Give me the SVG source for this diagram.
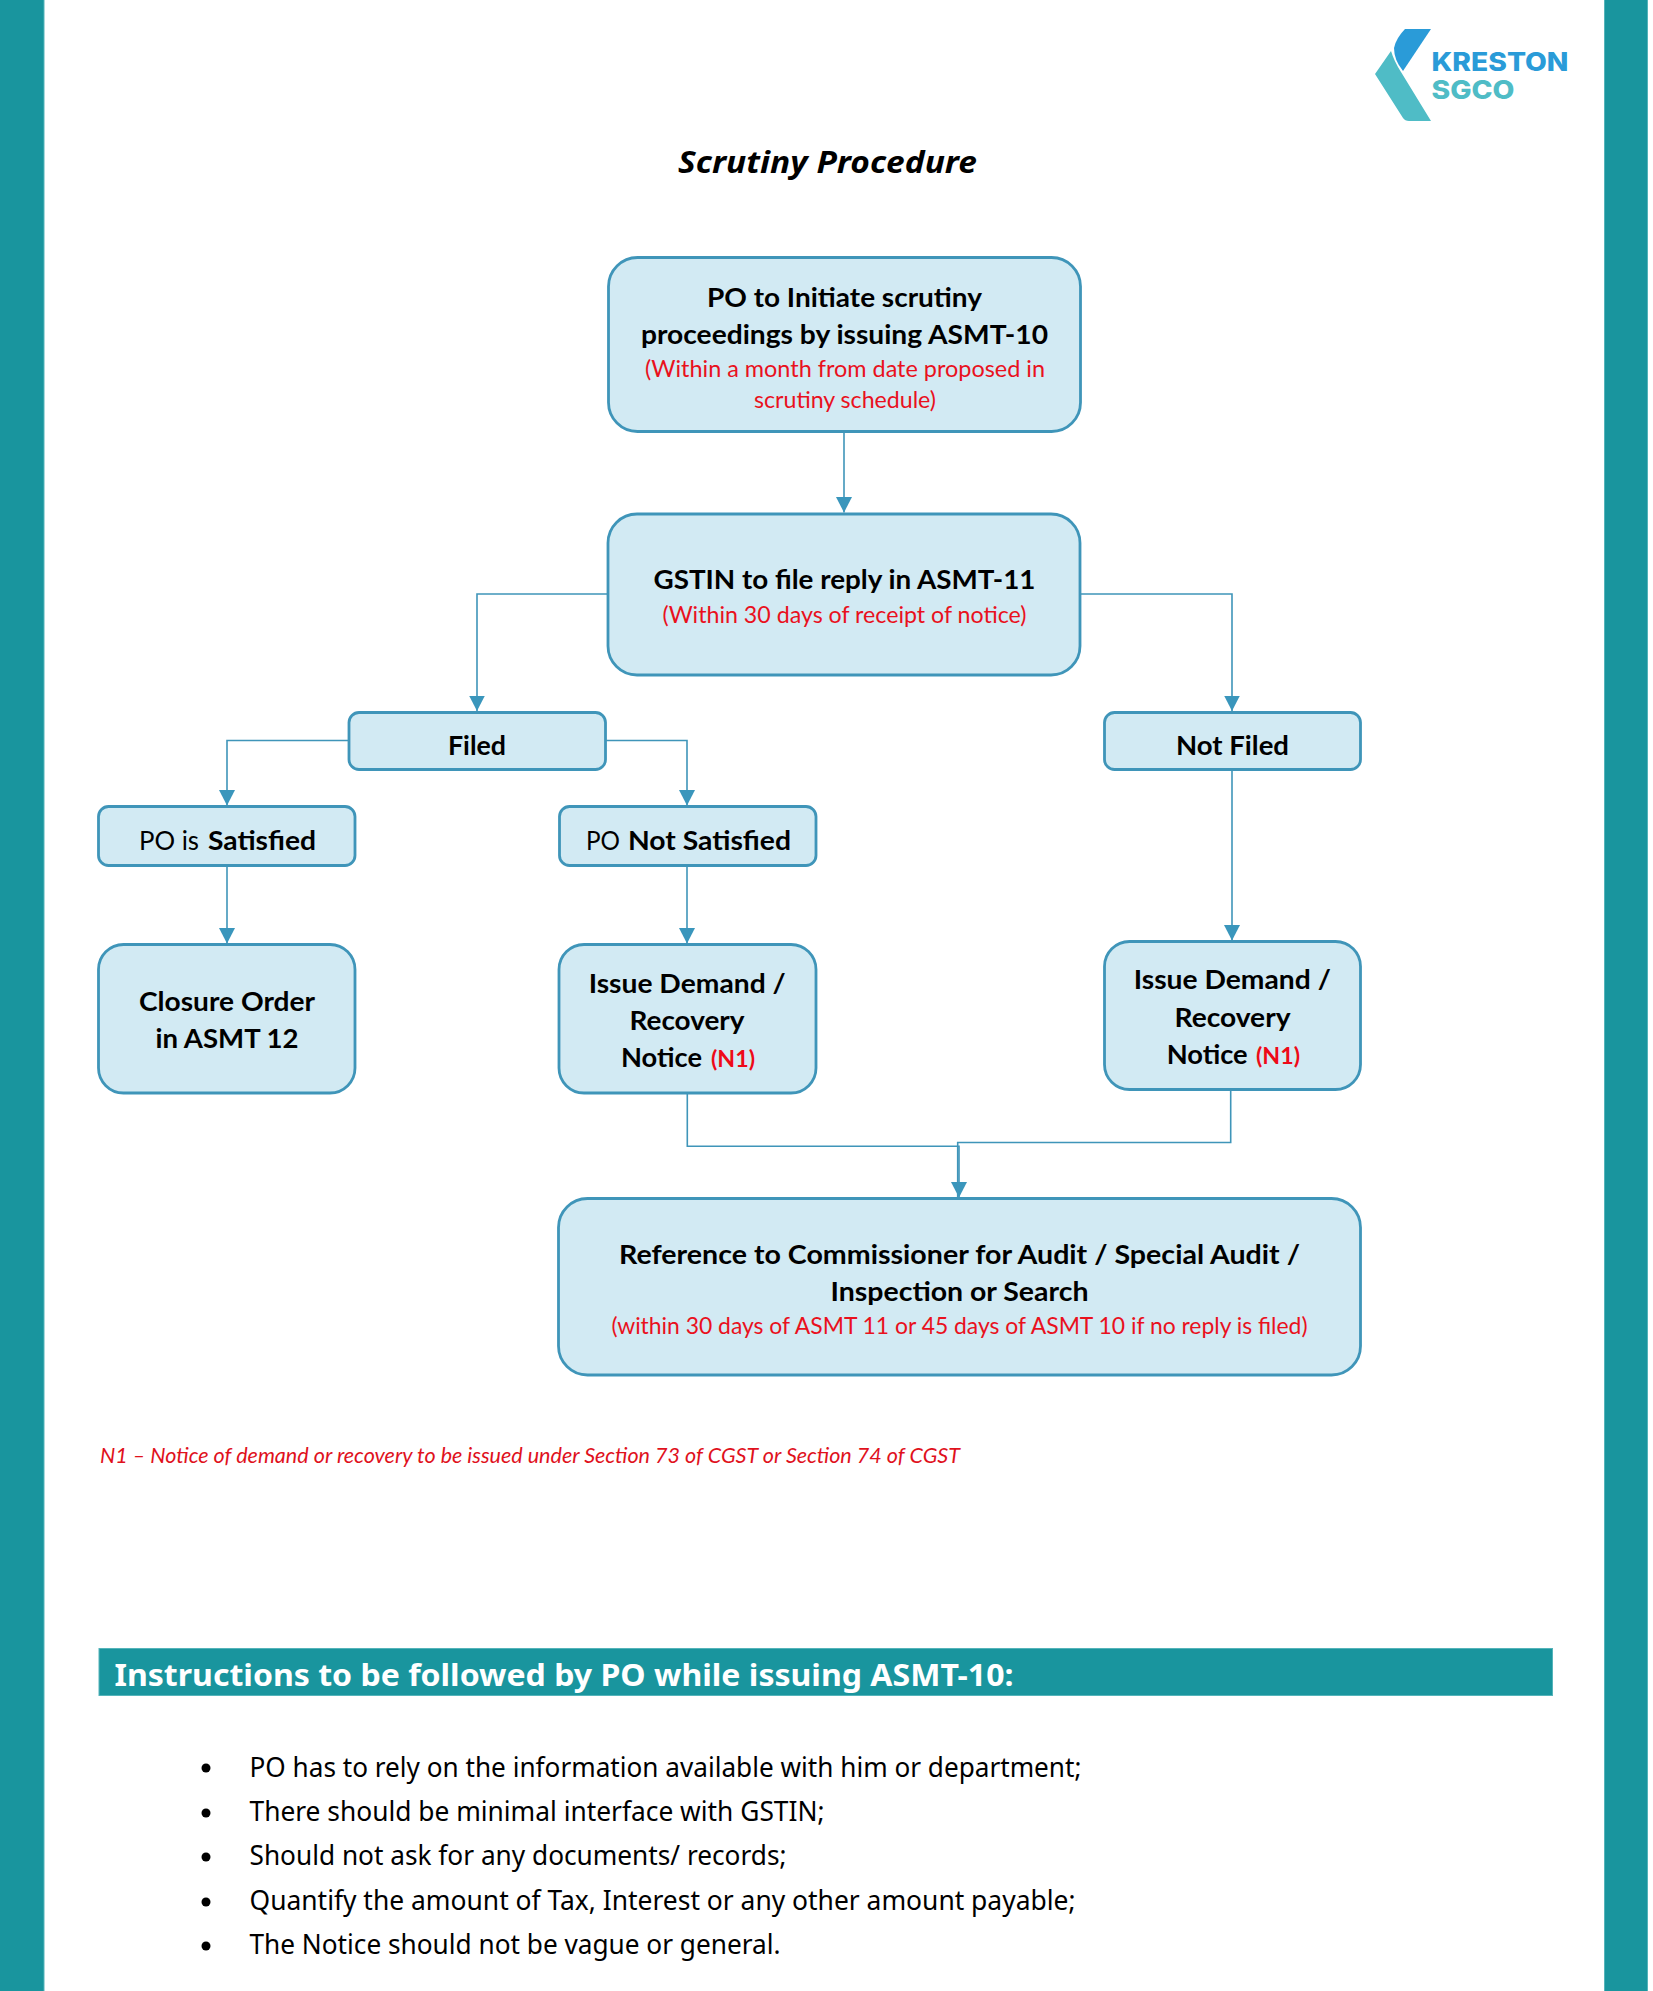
<svg xmlns="http://www.w3.org/2000/svg" width="1653" height="1991" viewBox="0 0 1653 1991">
<defs>
<style>
.box{fill:#d2eaf3;stroke:#3f95b9;stroke-width:2.8}
.c{fill:none;stroke:#3f95b9;stroke-width:1.6}
.b{font-family:"Lato","Liberation Sans",sans-serif;font-weight:700;font-size:27.5px;fill:#000}
.r{font-family:"Lato","Liberation Sans",sans-serif;font-weight:400;font-size:27.5px;fill:#000}
.s{font-family:"Lato","Liberation Sans",sans-serif;font-weight:400;font-size:23px;fill:#e9111d}
.n{font-family:"Lato","Liberation Sans",sans-serif;font-weight:700;font-size:22px;fill:#ee0a18}
.f{font-family:"Lato","Liberation Sans",sans-serif;font-style:italic;font-size:21px;fill:#e0111c}
.i{font-family:"Noto Sans","Liberation Sans",sans-serif;font-size:27px;fill:#000}
.h{font-family:"Noto Sans","Liberation Sans",sans-serif;font-weight:700;font-size:31px;fill:#fff}
.t{font-family:"Noto Sans","Liberation Sans",sans-serif;font-weight:700;font-style:italic;font-size:31px;fill:#000}
.l{font-family:"Inter","Liberation Sans",sans-serif;font-weight:800;font-size:25.5px}
.m{text-anchor:middle}
.band{fill:#19959e;stroke:#54b4ba;stroke-width:1}
</style>
<marker id="a" markerUnits="userSpaceOnUse" markerWidth="18" markerHeight="18" refX="15.5" refY="8" orient="auto"><path d="M0 0L15.5 8L0 16Z" fill="#3a96bc"/></marker>
</defs>
<rect width="1653" height="1991" fill="#fff"/>
<g id="page">
<rect class="band" x="-2" y="-2" width="46" height="1995"/>
<rect class="band" x="1604.5" y="-2" width="43" height="1995"/>
</g>
<g id="logo">
<path d="M1405 29L1431 29L1403 71Q1394 60 1394 48Q1395 43 1398 38Q1401 33 1405 29Z" fill="#2a9bd8"/>
<path d="M1391 51L1375 74L1403 118Q1405 121 1409 121L1431 121L1401 72Q1394 61 1391 51Z" fill="#4fbcc6"/>
<text class="l" x="1431.5" y="71" fill="#2a9bd8" textLength="137" lengthAdjust="spacingAndGlyphs">KRESTON</text>
<text class="l" x="1431.5" y="98.5" fill="#4fbcc6" textLength="83" lengthAdjust="spacingAndGlyphs">SGCO</text>
</g>
<text class="t" x="678" y="173" textLength="299" lengthAdjust="spacingAndGlyphs">Scrutiny Procedure</text>
<g id="connectors">
<path class="c" d="M844 432V512.5" marker-end="url(#a)"/>
<path class="c" d="M607 594H477V711" marker-end="url(#a)"/>
<path class="c" d="M1081 594H1232V711" marker-end="url(#a)"/>
<path class="c" d="M348 740.5H227V805.5" marker-end="url(#a)"/>
<path class="c" d="M606 740.5H687V805.5" marker-end="url(#a)"/>
<path class="c" d="M227 866V943.5" marker-end="url(#a)"/>
<path class="c" d="M687 866V943.5" marker-end="url(#a)"/>
<path class="c" d="M1232 770V940.5" marker-end="url(#a)"/>
<path class="c" d="M687.3 1094V1146.3H959V1197.5" marker-end="url(#a)"/>
<path class="c" d="M1230.7 1090V1142.5H957.7V1197"/>
</g>
<g id="n1">
<rect class="box" x="608.5" y="257.5" width="472" height="174" rx="29"/>
<text class="b m" x="844.5" y="307" textLength="275" lengthAdjust="spacingAndGlyphs">PO to Initiate scrutiny</text>
<text class="b m" x="844.5" y="344" textLength="407" lengthAdjust="spacingAndGlyphs">proceedings by issuing ASMT-10</text>
<text class="s m" x="845" y="377" textLength="400" lengthAdjust="spacingAndGlyphs">(Within a month from date proposed in</text>
<text class="s m" x="845" y="407.5" textLength="182" lengthAdjust="spacingAndGlyphs">scrutiny schedule)</text>
</g>
<g id="n2">
<rect class="box" x="608" y="514" width="472" height="161" rx="29"/>
<text class="b m" x="844.5" y="589" textLength="382" lengthAdjust="spacingAndGlyphs">GSTIN to file reply in ASMT-11</text>
<text class="s m" x="844.5" y="623" textLength="364" lengthAdjust="spacingAndGlyphs">(Within 30 days of receipt of notice)</text>
</g>
<g id="n3">
<rect class="box" x="349" y="712.5" width="256.5" height="57" rx="10"/>
<text class="b m" x="477" y="755" textLength="58" lengthAdjust="spacingAndGlyphs">Filed</text>
</g>
<g id="n4">
<rect class="box" x="1104.5" y="712.5" width="256" height="57" rx="10"/>
<text class="b m" x="1232.5" y="754.5" textLength="113" lengthAdjust="spacingAndGlyphs">Not Filed</text>
</g>
<g id="n5">
<rect class="box" x="98.5" y="806.5" width="256.5" height="59" rx="10"/>
<text class="r" x="139" y="850" textLength="60" lengthAdjust="spacingAndGlyphs">PO is</text>
<text class="b" x="208" y="850" textLength="108" lengthAdjust="spacingAndGlyphs">Satisfied</text>
</g>
<g id="n6">
<rect class="box" x="559.5" y="806.5" width="256.5" height="59" rx="10"/>
<text class="r" x="586" y="850" textLength="34" lengthAdjust="spacingAndGlyphs">PO</text>
<text class="b" x="628" y="850" textLength="163" lengthAdjust="spacingAndGlyphs">Not Satisfied</text>
</g>
<g id="n7">
<rect class="box" x="98.5" y="944.5" width="256.5" height="148.5" rx="25"/>
<text class="b m" x="227" y="1011" textLength="176" lengthAdjust="spacingAndGlyphs">Closure Order</text>
<text class="b m" x="227" y="1047.5" textLength="143" lengthAdjust="spacingAndGlyphs">in ASMT 12</text>
</g>
<g id="n8">
<rect class="box" x="559" y="944.5" width="257" height="148.5" rx="25"/>
<text class="b m" x="687.2" y="992.8" textLength="197" lengthAdjust="spacingAndGlyphs">Issue Demand /</text>
<text class="b m" x="687" y="1030" textLength="115" lengthAdjust="spacingAndGlyphs">Recovery</text>
<text class="b" x="621" y="1066.7" textLength="81" lengthAdjust="spacingAndGlyphs">Notice</text>
<text class="n" x="711" y="1066.7" textLength="44" lengthAdjust="spacingAndGlyphs">(N1)</text>
</g>
<g id="n9">
<rect class="box" x="1104.5" y="941.5" width="256" height="148" rx="25"/>
<text class="b m" x="1232.3" y="989" textLength="197" lengthAdjust="spacingAndGlyphs">Issue Demand /</text>
<text class="b m" x="1232.5" y="1026.5" textLength="116" lengthAdjust="spacingAndGlyphs">Recovery</text>
<text class="b" x="1166.7" y="1064" textLength="81" lengthAdjust="spacingAndGlyphs">Notice</text>
<text class="n" x="1256" y="1064" textLength="44" lengthAdjust="spacingAndGlyphs">(N1)</text>
</g>
<g id="n10">
<rect class="box" x="558.5" y="1198.5" width="802" height="176.5" rx="29"/>
<text class="b m" x="959.5" y="1263.5" textLength="681" lengthAdjust="spacingAndGlyphs">Reference to Commissioner for Audit / Special Audit /</text>
<text class="b m" x="959.5" y="1301" textLength="258" lengthAdjust="spacingAndGlyphs">Inspection or Search</text>
<text class="s m" x="959.5" y="1334" textLength="696" lengthAdjust="spacingAndGlyphs">(within 30 days of ASMT 11 or 45 days of ASMT 10 if no reply is filed)</text>
</g>
<text class="f" x="100" y="1463" textLength="860" lengthAdjust="spacingAndGlyphs">N1 – Notice of demand or recovery to be issued under Section 73 of CGST or Section 74 of CGST</text>
<g id="instructions">
<rect class="band" x="99" y="1648.5" width="1453.5" height="47"/>
<text class="h" x="114.5" y="1685.5" textLength="899" lengthAdjust="spacingAndGlyphs">Instructions to be followed by PO while issuing ASMT-10:</text>
<circle cx="206" cy="1768" r="4.5"/><text class="i" x="249.5" y="1776.5" textLength="832" lengthAdjust="spacingAndGlyphs">PO has to rely on the information available with him or department;</text>
<circle cx="206" cy="1813" r="4.5"/><text class="i" x="249.5" y="1821" textLength="575" lengthAdjust="spacingAndGlyphs">There should be minimal interface with GSTIN;</text>
<circle cx="206" cy="1857" r="4.5"/><text class="i" x="249.5" y="1865" textLength="537" lengthAdjust="spacingAndGlyphs">Should not ask for any documents/ records;</text>
<circle cx="206" cy="1902" r="4.5"/><text class="i" x="249.5" y="1909.5" textLength="826" lengthAdjust="spacingAndGlyphs">Quantify the amount of Tax, Interest or any other amount payable;</text>
<circle cx="206" cy="1946" r="4.5"/><text class="i" x="249.5" y="1954" textLength="531" lengthAdjust="spacingAndGlyphs">The Notice should not be vague or general.</text>
</g>
</svg>
